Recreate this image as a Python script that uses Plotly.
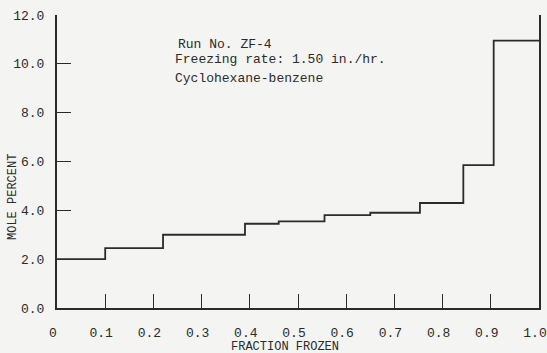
import plotly.graph_objects as go

# Zone-freezing run: mole percent per frozen segment
segment_edges = [0.0, 0.1, 0.22, 0.39, 0.46, 0.555, 0.65, 0.753, 0.843, 0.906, 1.0]
mole_percent = [2.0, 2.45, 3.0, 3.45, 3.55, 3.8, 3.9, 4.3, 5.85, 10.95]

x_tick_vals = [0, 0.1, 0.2, 0.3, 0.4, 0.5, 0.6, 0.7, 0.8, 0.9, 1.0]
x_tick_text = ["0", "0.1", "0.2", "0.3", "0.4", "0.5", "0.6", "0.7", "0.8", "0.9", "1.0"]
y_tick_vals = [0, 2, 4, 6, 8, 10, 12]
y_tick_text = ["0.0", "2.0", "4.0", "6.0", "8.0", "10.0", "12.0"]

note_lines = ["Run No. ZF-4", "Freezing rate: 1.50 in./hr.", "Cyclohexane-benzene"]

ink = "#2b2b2b"
paper = "#f4f4f2"
mono = "Liberation Mono, Courier New, monospace"

fig = go.Figure()
fig.add_trace(go.Scatter(
    x=segment_edges,
    y=mole_percent + [mole_percent[-1]],
    mode="lines",
    line=dict(shape="hv", color=ink, width=1.8),
    hoverinfo="skip",
    showlegend=False,
))

fig.update_layout(
    width=547, height=353,
    margin=dict(l=57, r=8, t=15, b=45),
    paper_bgcolor=paper, plot_bgcolor=paper,
    font=dict(family=mono, size=13, color=ink),
    xaxis=dict(
        range=[0, 1], tickvals=x_tick_vals, ticktext=x_tick_text,
        ticks="inside", ticklen=14, tickwidth=1.3, tickcolor=ink,
        showline=True, linecolor=ink, linewidth=2, mirror=False,
        showgrid=False, zeroline=False, ticklabelstandoff=11,
        ticklabelshift=-4, ticklabeloverflow="allow", automargin=False,
    ),
    yaxis=dict(
        range=[0, 12], tickvals=y_tick_vals, ticktext=y_tick_text,
        ticks="inside", ticklen=14, tickwidth=1.3, tickcolor=ink,
        showline=True, linecolor=ink, linewidth=2, mirror=True,
        showgrid=False, zeroline=False, ticklabelstandoff=8, automargin=False,
    ),
    annotations=[
        dict(text="FRACTION FROZEN", xref="paper", yref="paper",
             x=(285 - 57) / 482, y=-39 / 293, xanchor="center", yanchor="middle",
             showarrow=False, font=dict(family=mono, size=12, color=ink)),
        dict(text="MOLE PERCENT", xref="paper", yref="paper",
             x=-44 / 482, y=(308 - 197) / 293, xanchor="center", yanchor="middle",
             textangle=-90, showarrow=False, font=dict(family=mono, size=12, color=ink)),
        dict(text=note_lines[0], xref="paper", yref="paper",
             x=(176 - 57) / 482, y=(308 - 45) / 293, xanchor="left", yanchor="middle",
             showarrow=False, font=dict(family=mono, size=13, color=ink)),
        dict(text=note_lines[1], xref="paper", yref="paper",
             x=(173 - 57) / 482, y=(308 - 59) / 293, xanchor="left", yanchor="middle",
             showarrow=False, font=dict(family=mono, size=13, color=ink)),
        dict(text=note_lines[2], xref="paper", yref="paper",
             x=(173 - 57) / 482, y=(308 - 78) / 293, xanchor="left", yanchor="middle",
             showarrow=False, font=dict(family=mono, size=13, color=ink)),
    ],
)

fig.write_html("out.html")
